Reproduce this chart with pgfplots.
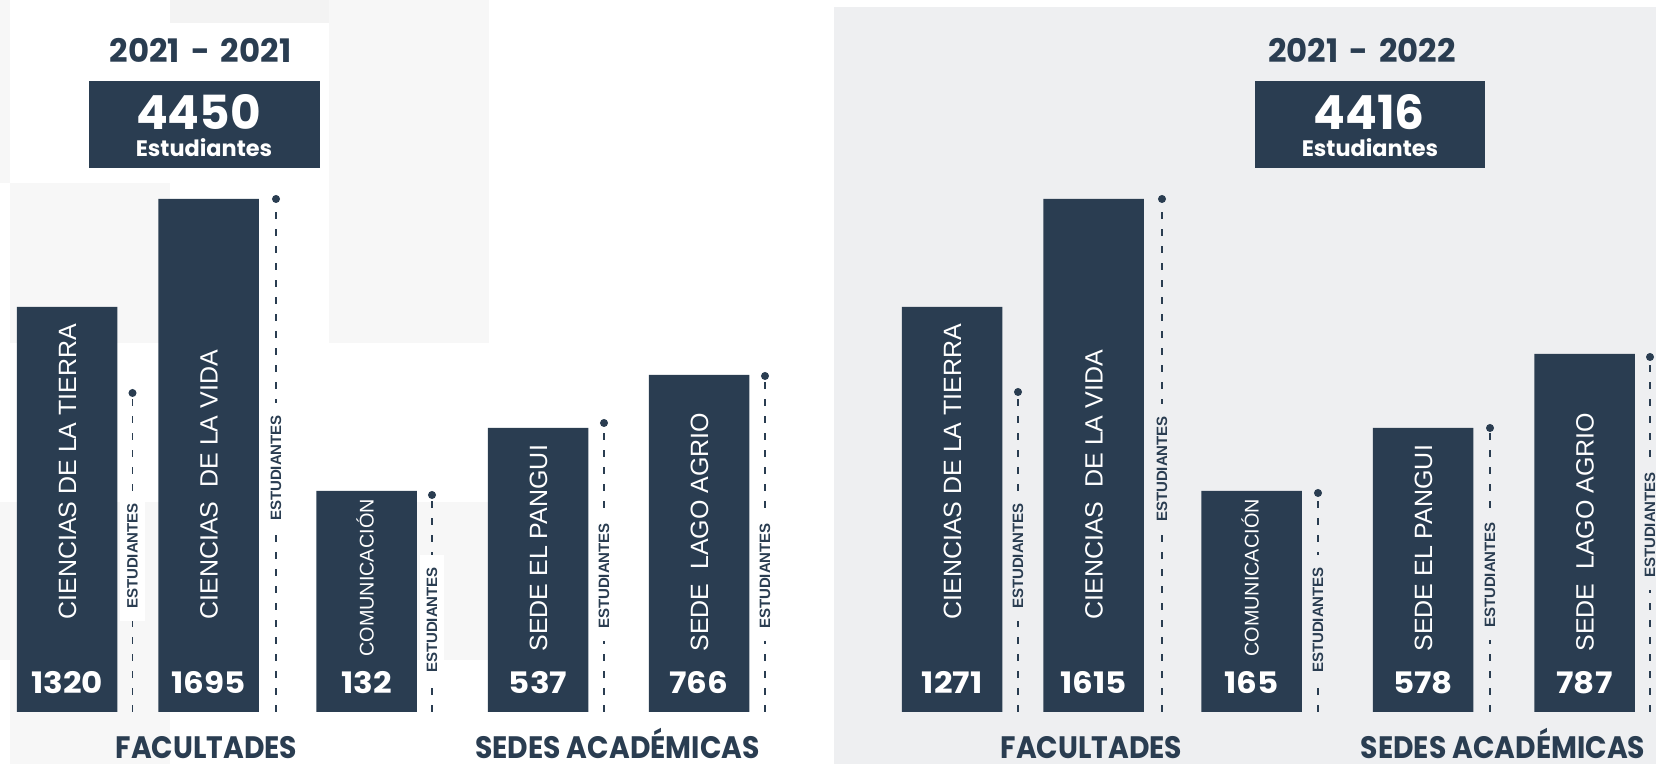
\documentclass[border=0pt]{standalone}
\usepackage{pgfplots}
\pgfplotsset{compat=1.18}
\usepackage{pgfplotstable}
\usepackage{fontspec}
\setmainfont{Liberation Sans}
\newfontfamily\pop{Poppins}
\newfontfamily\popn{Poppins}[FakeStretch=0.91]
\newfontfamily\popw{Poppins}[FakeStretch=1.1]
\definecolor{navy}{HTML}{2A3D51}
\definecolor{panel}{HTML}{EEEFF1}
\definecolor{tileA}{HTML}{F7F7F7}
\definecolor{tileB}{HTML}{F3F3F3}

% x = bar centre, h = bar height (px, as drawn), n = students,
% lx = dashed line x, dy = dot height, ey = label centre, ny = number baseline
\pgfplotstableread{
x     h   n    lx     dy  ey  ny
67    405 1320 132.5  319 156 18
208.5 513 1695 276    513 244 18
366.5 221 132  432    217 92  18
538   284 537  604    289 136 18
699   337 766  765    336 136 18
}\tableL
\pgfplotstableread{
x      h   n    lx     dy  ey  ny
952    405 1271 1018   320 156 18
1093.5 513 1615 1162   513 243 18
1251.5 221 165  1318   219 92  18
1423   284 578  1490   284 137 18
1584.5 358 787  1650   355 187 18
}\tableR

\newcommand{\estfont}{\fontsize{7.5pt}{8pt}\selectfont\bfseries}
\newcommand{\catfont}{\fontsize{12.5pt}{14pt}\selectfont}
\newcommand{\comfont}{\fontsize{9.9pt}{11pt}\selectfont}
\newcommand{\yr}[2]{#1\hspace{0.34em}-\hspace{0.34em}#2}

\begin{document}
\begin{tikzpicture}
\begin{axis}[name=ax, x=0.5pt, y=0.5pt, scale only axis,
  xmin=0, xmax=1656, ymin=-52, ymax=712,
  axis lines=none, clip=false]
% faint background tiles (left panel)
\fill[tileA] (axis cs:0,712) rectangle (axis cs:9.5,529);
\fill[tileB] (axis cs:170,712) rectangle (axis cs:329,689);
\fill[tileA] (axis cs:329,712) rectangle (axis cs:489,689);
\fill[tileA] (axis cs:329,689) rectangle (axis cs:489,369);
\fill[tileA] (axis cs:9.5,529) rectangle (axis cs:170,369);
\fill[tileA] (axis cs:0,210) rectangle (axis cs:170,52);
\fill[tileA] (axis cs:329,210) rectangle (axis cs:489,52);
\fill[tileA] (axis cs:9.5,52) rectangle (axis cs:170,-52);
% right panel background
\fill[panel] (axis cs:834,705) rectangle (axis cs:1656,-52);

% headers
\fill[navy] (axis cs:89,631) rectangle (axis cs:320,544);
\node[anchor=base, text=navy, inner sep=0pt, font=\pop\bfseries\fontsize{16.2pt}{18pt}\selectfont] at (axis cs:200.5,649) {\yr{2021}{2021}};
\node[anchor=base, text=white, inner sep=0pt, font=\pop\bfseries\fontsize{23.5pt}{26pt}\selectfont] at (axis cs:198.5,582) {4450};
\node[anchor=base, text=white, inner sep=0pt, font=\pop\bfseries\fontsize{11.2pt}{13pt}\selectfont] at (axis cs:204,555) {Estudiantes};
\fill[navy] (axis cs:1255,631) rectangle (axis cs:1485,544);
\node[anchor=base, text=navy, inner sep=0pt, font=\pop\bfseries\fontsize{16.2pt}{18pt}\selectfont] at (axis cs:1362,649) {\yr{2021}{2022}};
\node[anchor=base, text=white, inner sep=0pt, font=\pop\bfseries\fontsize{23.5pt}{26pt}\selectfont] at (axis cs:1369,582) {4416};
\node[anchor=base, text=white, inner sep=0pt, font=\pop\bfseries\fontsize{11.2pt}{13pt}\selectfont] at (axis cs:1370,555) {Estudiantes};

% bars
\addplot[ybar, bar width=50.25pt, bar shift=0pt, fill=navy, draw=none] table[x=x,y=h]{\tableL};
\addplot[ybar, bar width=50.25pt, bar shift=0pt, fill=navy, draw=none] table[x=x,y=h]{\tableR};

% dashed leader lines with dot
\addplot[ycomb, draw=navy, line width=0.75pt, dash pattern=on 3.5pt off 5pt, mark=*, mark size=1.6pt, mark options={solid, fill=navy, draw=navy}] table[x=lx,y=dy]{\tableL};
\addplot[ycomb, draw=navy, line width=0.75pt, dash pattern=on 3.5pt off 5pt, mark=*, mark size=1.6pt, mark options={solid, fill=navy, draw=navy}] table[x=lx,y=dy]{\tableR};

% ESTUDIANTES labels
\addplot[draw=none, mark=none, nodes near coords={\estfont ESTUDIANTES},
  every node near coord/.append style={rotate=90, anchor=center, fill=white, text=navy, inner xsep=6pt, inner ysep=3.5pt}]
  table[x=lx,y=ey]{\tableL};
\addplot[draw=none, mark=none, nodes near coords={\estfont ESTUDIANTES},
  every node near coord/.append style={rotate=90, anchor=center, fill=panel, text=navy, inner xsep=6pt, inner ysep=3.5pt}]
  table[x=lx,y=ey]{\tableR};

% numbers
\addplot[draw=none, mark=none, nodes near coords, point meta=explicit symbolic,
  every node near coord/.append style={anchor=base, inner sep=0pt, text=white, font=\popw\bfseries\fontsize{14.8pt}{16pt}\selectfont}]
  table[x=x,y=ny,meta=n]{\tableL};
\addplot[draw=none, mark=none, nodes near coords, point meta=explicit symbolic,
  every node near coord/.append style={anchor=base, inner sep=0pt, text=white, font=\popw\bfseries\fontsize{14.8pt}{16pt}\selectfont}]
  table[x=x,y=ny,meta=n]{\tableR};

% category labels in bars
\begin{scope}[every node/.style={rotate=90, anchor=base west, inner sep=0pt, text=white}]
\node[font=\catfont] at (axis cs:76,92) {CIENCIAS DE LA TIERRA};
\node[font=\catfont] at (axis cs:217.5,92) {CIENCIAS\ \ DE LA VIDA};
\node[font=\comfont] at (axis cs:373.5,55) {COMUNICACIÓN};
\node[font=\catfont] at (axis cs:547,60) {SEDE EL PANGUI};
\node[font=\catfont] at (axis cs:708,60) {SEDE\ \ LAGO AGRIO};
\node[font=\catfont] at (axis cs:961,92) {CIENCIAS DE LA TIERRA};
\node[font=\catfont] at (axis cs:1102.5,92) {CIENCIAS\ \ DE LA VIDA};
\node[font=\comfont] at (axis cs:1258.5,55) {COMUNICACIÓN};
\node[font=\catfont] at (axis cs:1432,60) {SEDE EL PANGUI};
\node[font=\catfont] at (axis cs:1593.5,60) {SEDE\ \ LAGO AGRIO};
\end{scope}

% group captions
\begin{scope}[every node/.style={anchor=base, inner sep=0pt, text=navy, font=\popn\bfseries\fontsize{15.5pt}{18pt}\selectfont}]
\node at (axis cs:206.5,-47) {FACULTADES};
\node at (axis cs:617.5,-47) {SEDES ACADÉMICAS};
\node at (axis cs:1091.5,-47) {FACULTADES};
\node at (axis cs:1503,-47) {SEDES ACADÉMICAS};
\end{scope}
\end{axis}
\pgfresetboundingbox
\useasboundingbox (ax.south west) rectangle (ax.north east);
\end{tikzpicture}
\end{document}
